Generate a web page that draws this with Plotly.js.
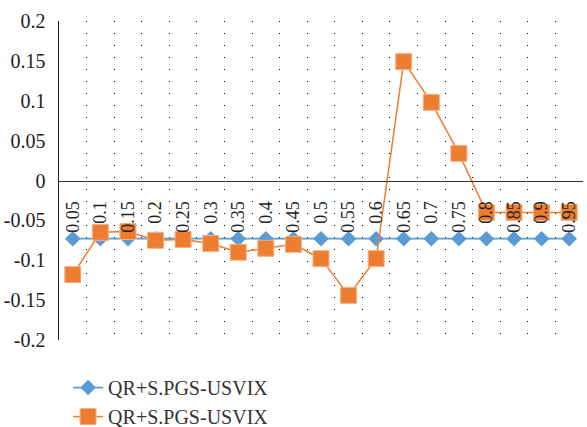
<!DOCTYPE html>
<html>
<head>
<meta charset="utf-8">
<script src="https://cdn.plot.ly/plotly-3.0.1.min.js"></script>
<style>html,body{margin:0;padding:0;background:#fff;}#chart{width:587px;height:427px;}</style>
</head>
<body>
<div id="chart"></div>
<script>
const categories = ['0.05','0.1','0.15','0.2','0.25','0.3','0.35','0.4','0.45','0.5','0.55','0.6','0.65','0.7','0.75','0.8','0.85','0.9','0.95'];
const seriesBlueName = 'QR+S.PGS-USVIX';
const seriesBlue = [-0.073,-0.073,-0.073,-0.073,-0.073,-0.073,-0.073,-0.073,-0.073,-0.073,-0.073,-0.073,-0.073,-0.073,-0.073,-0.073,-0.073,-0.073,-0.073];
const seriesOrangeName = 'QR+S.PGS-USVIX';
const seriesOrange = [-0.118,-0.065,-0.064,-0.075,-0.074,-0.079,-0.090,-0.085,-0.080,-0.098,-0.144,-0.098,0.149,0.098,0.034,-0.040,-0.040,-0.040,-0.040];
const yTickVals = [0.2,0.15,0.1,0.05,0,-0.05,-0.1,-0.15,-0.2];
const yTickText = ['0.2','0.15','0.1','0.05','0','-0.05','-0.1','-0.15','-0.2'];

const serif = "'Liberation Serif', 'Times New Roman', serif";
const traces = [
  {x: categories, y: seriesBlue, name: seriesBlueName, type: 'scatter', mode: 'lines+markers',
   line: {color: '#5B9BD5', width: 1.75},
   marker: {symbol: 'diamond', size: 12, color: '#5B9BD5', line: {width: 0}}},
  {x: categories, y: seriesOrange, name: seriesOrangeName, type: 'scatter', mode: 'lines+markers',
   line: {color: '#ED7D31', width: 1.5},
   marker: {symbol: 'square', size: 16, color: '#ED7D31', line: {width: 1, color: '#F4B183'}}}
];
const layout = {
  width: 587, height: 427,
  margin: {l: 59, r: 4, t: 21, b: 87, autoexpand: false},
  paper_bgcolor: '#fff', plot_bgcolor: '#fff',
  font: {family: serif, size: 18, color: '#222'},
  showlegend: true,
  legend: {xref: 'container', yref: 'container', x: 0.116, y: 0.138, xanchor: 'left', yanchor: 'top',
           orientation: 'v', font: {family: serif, size: 20, color: '#333'}, bgcolor: 'rgba(0,0,0,0)', tracegroupgap: 0},
  xaxis: {type: 'category', range: [-0.5, 18.5], tickson: 'boundaries',
          showgrid: true, gridcolor: '#000', gridwidth: 1, griddash: '1px,11px',
          anchor: 'free', position: 0.5, showline: true, linecolor: '#333', linewidth: 1.5,
          ticks: '', tickangle: -90, ticklabelstandoff: 12, zeroline: false, automargin: false,
          tickfont: {family: serif, size: 18, color: '#222'}},
  yaxis: {range: [-0.2, 0.2], tickvals: yTickVals, ticktext: yTickText, automargin: false,
          showgrid: false, zeroline: false, showline: true, linecolor: '#222', linewidth: 1.5,
          ticks: '', ticklabelstandoff: 8,
          tickfont: {family: serif, size: 20, color: '#222'}}
};
Plotly.newPlot('chart', traces, layout, {displayModeBar: false, staticPlot: true});
</script>
</body>
</html>
